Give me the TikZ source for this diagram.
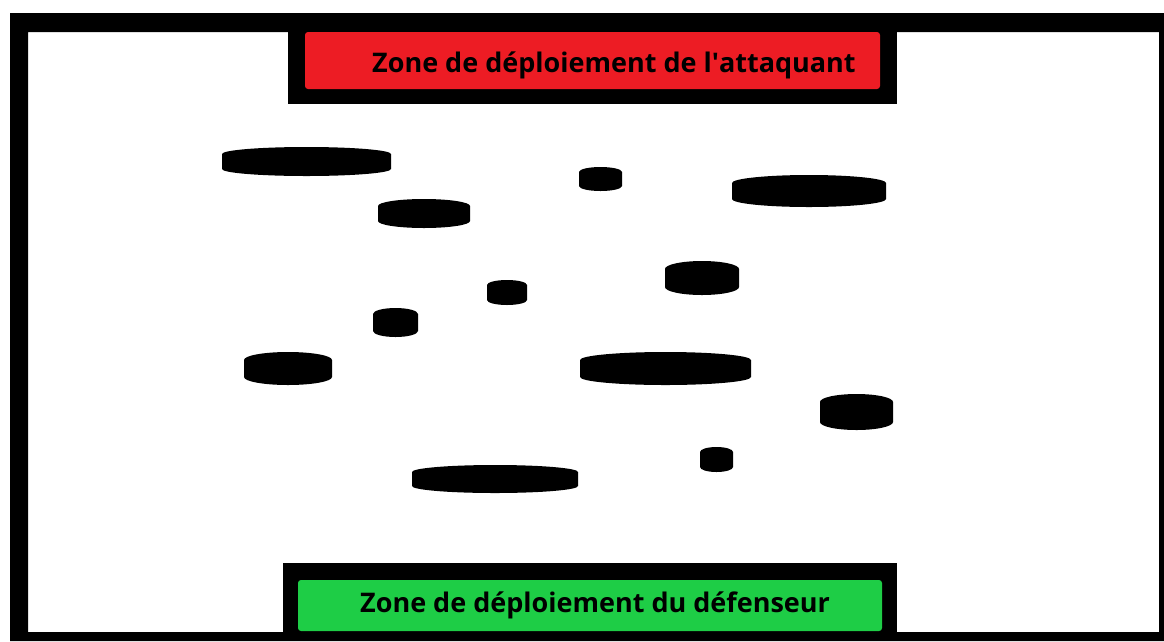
\documentclass[tikz,border=0pt]{standalone}
\usepackage{fontspec}
\setmainfont{Open Sans}
\definecolor{zred}{RGB}{237,28,36}
\definecolor{zgreen}{RGB}{30,205,70}
\tikzset{
  cyl/.style={fill=black},
  zonebox/.style={rounded corners=3pt, draw=none},
  zonelabel/.style={anchor=base west, inner sep=0pt, font=\bfseries\fontsize{27}{30}\selectfont, text=black}
}
% cylinder: left x, right x, top y, bottom y, ellipse half-height
\newcommand{\disc}[5]{%
  \fill[cyl] (#1,{#3+#5}) -- (#1,{#4-#5})
    arc[start angle=180, end angle=0, x radius={(#2-#1)/2}, y radius=#5]
    -- (#2,{#3+#5})
    arc[start angle=0, end angle=-180, x radius={(#2-#1)/2}, y radius=#5]
    -- cycle;
}
\begin{document}
\begin{tikzpicture}[x=1pt,y=-1pt]
\useasboundingbox (0,0) rectangle (1164,641);
\fill[white] (0,0) rectangle (1164,641);
% outer frame
\fill[black,even odd rule] (10,13) rectangle (1164,641) (28,32) rectangle (1159,632);
% attacker zone
\fill[black] (288,13) rectangle (897,104);
\fill[zred,zonebox] (305,32) rectangle (880,89);
\node[zonelabel] (att) at (372,72) {Zone de déploiement de l\textquotesingle attaquant};
% defender zone
\fill[black] (283,563) rectangle (897,641);
\fill[zgreen,zonebox] (298,580) rectangle (882,631);
\node[zonelabel] (def) at (360,612) {Zone de déploiement du défenseur};
% obstacles
\disc{222}{391}{147}{176}{7}
\disc{378}{470}{199}{228}{7}
\disc{579}{622}{167}{191}{5}
\disc{732}{886}{175}{207}{8}
\disc{665}{739}{261}{295}{8}
\disc{487}{527}{280}{305}{5}
\disc{373}{418}{308}{337}{6}
\disc{244}{332}{352}{385}{8}
\disc{580}{751}{352}{385}{8}
\disc{820}{893}{394}{430}{8}
\disc{700}{733}{447}{472}{5}
\disc{412}{578}{465}{493}{7}
\end{tikzpicture}
\end{document}
